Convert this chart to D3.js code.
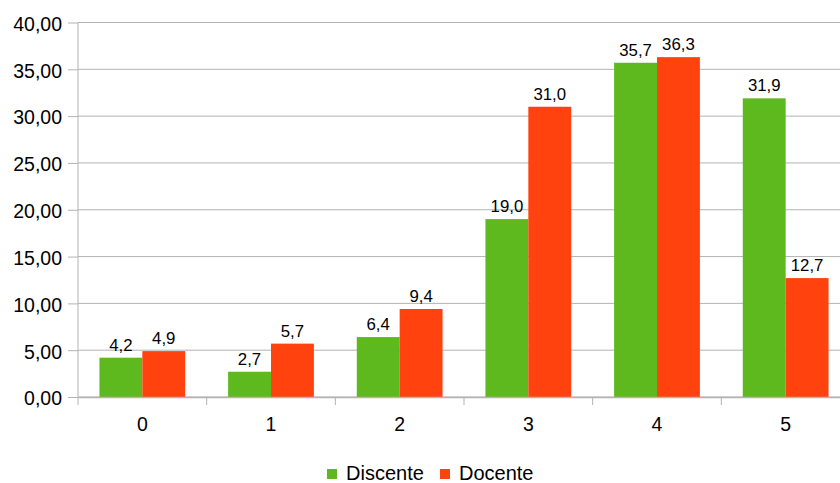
<!DOCTYPE html>
<html><head><meta charset="utf-8">
<script src="https://cdn.jsdelivr.net/npm/d3@7"></script>
<style>body{margin:0;background:#fff}svg{display:block}text{font-family:"Liberation Sans",Arial,sans-serif;fill:#000}</style>
</head><body>
<svg id="c" width="840" height="483"></svg>
<script>
const categories = ["0","1","2","3","4","5"];
const seriesNames = ["Discente","Docente"];
const discente = [4.2, 2.7, 6.4, 19.0, 35.7, 31.9];
const docente  = [4.9, 5.7, 9.4, 31.0, 36.3, 12.7];
const yTicks = [0,5,10,15,20,25,30,35,40];
const colors = ["#5eb91e","#ff420e"];

const svg = d3.select("#c");
const pL = 78, pR = 850, pT = 22.5, pB = 397;
const fmt2 = v => d3.format(".2f")(v).replace(".", ",");
const fmt1 = v => d3.format(".1f")(v).replace(".", ",");

const x = d3.scaleBand().domain(categories).range([pL, pR]).paddingInner(0).paddingOuter(0);
const xs = d3.scaleBand().domain(seriesNames).range([0, x.bandwidth()]).paddingInner(0).paddingOuter(0.5);
const y = d3.scaleLinear().domain([0, 40]).range([pB, pT]);

// gridlines
svg.append("g").selectAll("line").data(yTicks).join("line")
  .attr("x1", pL).attr("x2", pR).attr("y1", d => y(d)).attr("y2", d => y(d))
  .attr("stroke", "#b3b3b3").attr("stroke-width", 1);

// y axis
const yAxis = d3.axisLeft(y).tickValues(yTicks).tickFormat(fmt2).tickSize(10).tickPadding(6);
const gy = svg.append("g").attr("transform", `translate(${pL},0)`).call(yAxis);
gy.select(".domain").attr("stroke", "#b3b3b3").attr("d", `M0,${pT}V${pB + 8}`);
gy.selectAll(".tick line").attr("stroke", "#b3b3b3");
gy.selectAll("text").style("font-size", "19.5px").attr("fill", "#000").attr("font-family", null).attr("dy", "0.4em");

// bars
const data = categories.map((c, i) => ({c, vals: [discente[i], docente[i]]}));
const groups = svg.append("g").selectAll("g").data(data).join("g")
  .attr("transform", d => `translate(${x(d.c)},0)`);
groups.selectAll("rect").data(d => d.vals.map((v, j) => ({v, s: seriesNames[j], j}))).join("rect")
  .attr("x", d => xs(d.s)).attr("width", xs.bandwidth())
  .attr("y", d => y(d.v)).attr("height", d => pB - y(d.v))
  .attr("fill", d => colors[d.j]);
groups.selectAll("text").data(d => d.vals.map((v, j) => ({v, s: seriesNames[j], j}))).join("text")
  .attr("x", d => xs(d.s) + xs.bandwidth() / 2).attr("y", d => y(d.v) - 7)
  .attr("text-anchor", "middle").style("font-size", "16.8px").text(d => fmt1(d.v));

// x axis
const xAxis = d3.axisBottom(x).tickSize(0).tickPadding(20);
const gx = svg.append("g").attr("transform", `translate(0,${pB})`).call(xAxis);
gx.select(".domain").attr("stroke", "#b3b3b3").attr("stroke-width", 1.5);
gx.selectAll("text").style("font-size", "19.5px").attr("fill", "#000").attr("font-family", null);
gx.append("g").selectAll("line").data(categories.slice(1)).join("line")
  .attr("x1", d => x(d)).attr("x2", d => x(d)).attr("y1", 0).attr("y2", 8)
  .attr("stroke", "#b3b3b3");

// legend
const leg = svg.append("g");
const items = [{n: seriesNames[0], c: colors[0], x: 327}, {n: seriesNames[1], c: colors[1], x: 440}];
items.forEach(it => {
  leg.append("rect").attr("x", it.x).attr("y", 469).attr("width", 10).attr("height", 10).attr("fill", it.c);
  leg.append("text").attr("x", it.x + 19).attr("y", 480).style("font-size", "20px").text(it.n);
});
</script>
</body></html>
